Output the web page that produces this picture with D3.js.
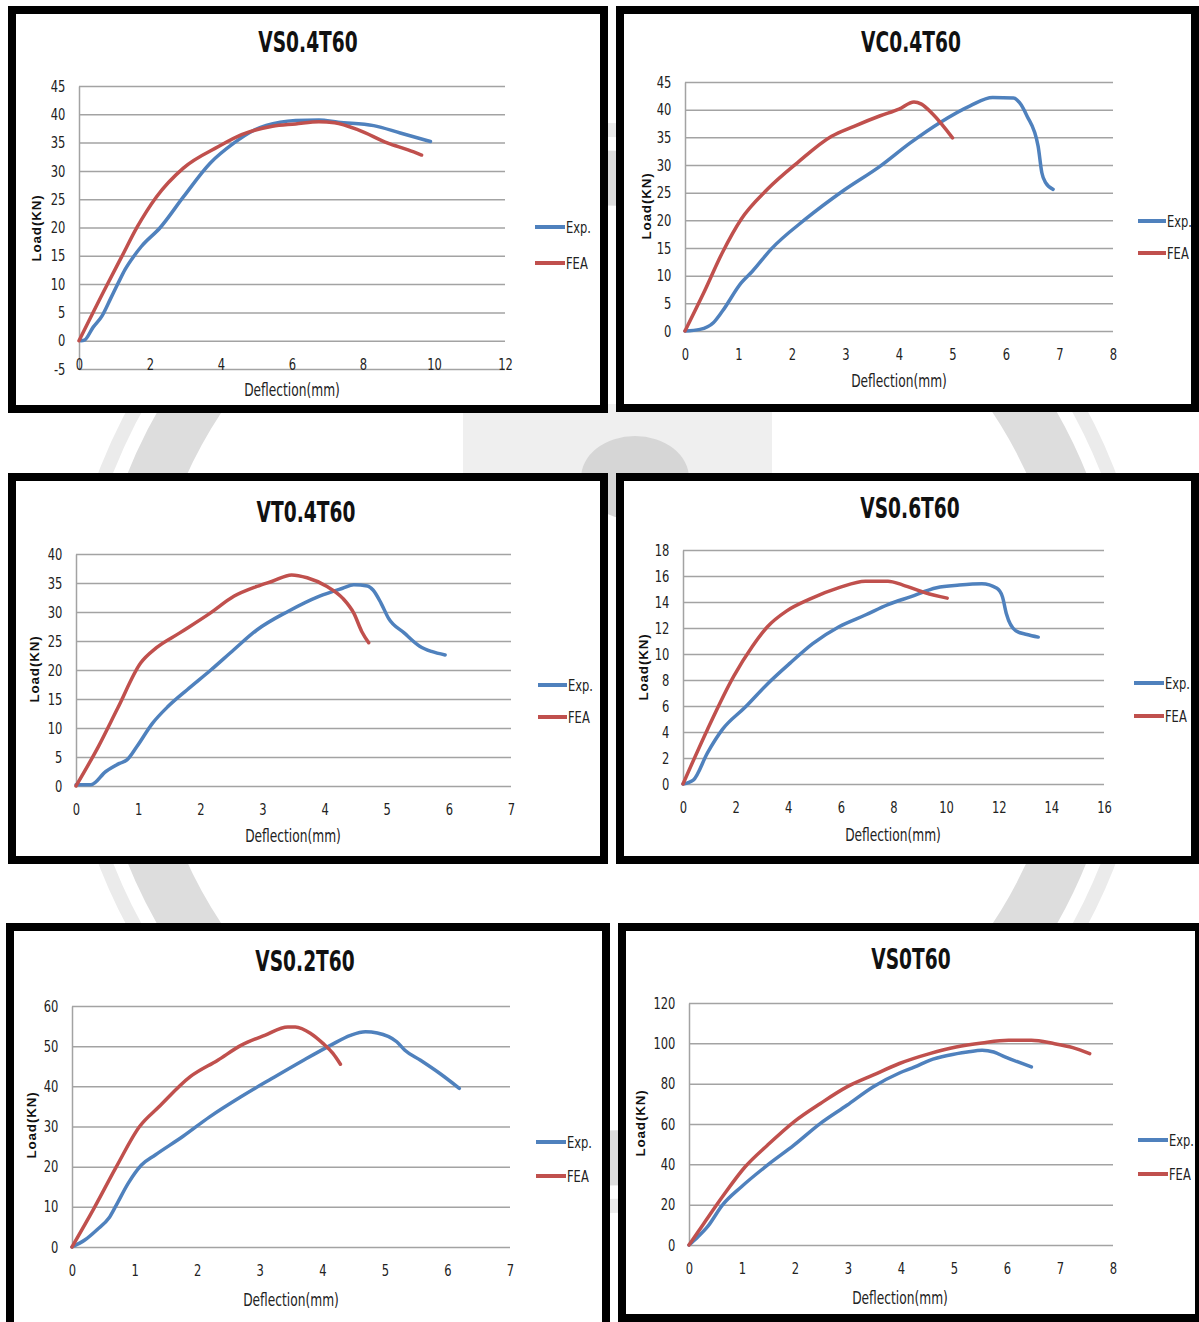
<!DOCTYPE html>
<html>
<head>
<meta charset="utf-8">
<script src="https://cdn.jsdelivr.net/npm/d3@7"></script>
<style>
body { margin: 0; background: #fff; }
text { font-family: "Liberation Sans Narrow", "Arial Narrow", "DejaVu Sans Condensed", sans-serif; }
</style>
</head>
<body>
<div id="chart"></div>
<script>
// series: [deflection mm, load kN]
var vs04Exp = [[0.05,0],[0.15,0.1],[0.4,2.4],[0.65,4.4],[0.88,7.3],[1.09,10],[1.3,12.6],[1.53,14.8],[1.75,16.6],[2.29,20],[2.94,25.4],[3.7,31.4],[4.36,34.9],[4.9,37.1],[5.67,38.6],[6.1,38.9],[6.76,39],[7.3,38.6],[8.3,38],[9.05,36.7],[9.9,35.2]];
var vs04Fea = [[0,0],[0.76,9.5],[1.2,14.8],[1.64,20.1],[2.18,25.4],[2.94,30.5],[3.93,34.3],[4.58,36.4],[5.45,37.9],[6.1,38.3],[6.76,38.7],[7.2,38.5],[7.85,37.3],[8.7,34.9],[9.27,33.7],[9.65,32.8]];

var vc04Exp = [[0,0],[0.28,0.3],[0.53,1.5],[0.7,3.6],[1.05,8.7],[1.26,10.8],[1.61,14.8],[2.25,20.2],[2.95,25.3],[3.65,29.8],[4.21,34],[4.77,37.7],[5.33,40.7],[5.75,42.2],[6.14,42.1],[6.25,41.3],[6.39,38.9],[6.6,33.4],[6.67,28.6],[6.74,26.8],[6.88,25.6]];
var vc04Fea = [[0,0],[0.35,6.9],[0.7,14.2],[1.05,20.2],[1.54,25.6],[2.1,30.4],[2.74,35.2],[3.16,37],[3.65,38.9],[4.0,40.1],[4.28,41.4],[4.42,41],[4.63,39.2],[5.0,34.9]];

var vt04Exp = [[0,0.2],[0.24,0.2],[0.48,2.5],[0.7,3.9],[0.82,4.5],[0.98,6.8],[1.23,10.8],[1.48,13.7],[1.79,16.6],[2.17,20],[2.54,23.5],[2.91,26.9],[3.41,30.1],[3.91,32.7],[4.29,34.1],[4.47,34.7],[4.69,34.5],[4.78,33.8],[4.91,31.5],[5.03,28.9],[5.28,26.4],[5.53,24.1],[5.72,23.2],[5.94,22.6]];
var vt04Fea = [[0,0],[0.36,6.8],[0.67,13.4],[1.04,21.2],[1.29,23.8],[1.67,26.4],[2.16,29.8],[2.54,32.7],[2.91,34.4],[3.16,35.3],[3.47,36.4],[3.72,35.9],[4.04,34.4],[4.29,32.4],[4.47,29.8],[4.6,26.6],[4.71,24.7]];

var vs06Exp = [[0,0],[0.39,0.3],[0.93,2.4],[1.5,4.2],[2.36,5.9],[3.21,7.7],[4.07,9.3],[4.93,10.8],[5.93,12.1],[6.93,13],[7.79,13.8],[8.64,14.4],[9.64,15.1],[10.5,15.3],[11.36,15.4],[11.93,15.05],[12.14,14.4],[12.29,13.1],[12.64,11.8],[13.07,11.5],[13.5,11.3]];
var vs06Fea = [[0,0],[0.93,4.2],[1.93,8.3],[2.64,10.6],[3.21,12.1],[3.93,13.3],[4.79,14.2],[5.93,15.1],[6.93,15.6],[7.79,15.6],[8.36,15.3],[9.21,14.7],[10.04,14.3]];

var vs02Exp = [[0,0],[0.21,1.8],[0.4,4.3],[0.59,7.2],[0.71,10.5],[0.9,15.9],[1.11,20.4],[1.33,22.9],[1.77,27.5],[2.2,32.4],[2.7,37.4],[3.2,42],[3.7,46.5],[4.13,50.2],[4.45,52.7],[4.69,53.6],[4.88,53.3],[5.19,51.1],[5.32,49],[5.57,46.5],[5.88,43.2],[6.19,39.5]];
var vs02Fea = [[0,0],[0.34,9.3],[0.71,20],[1.08,30],[1.39,34.9],[1.89,42.4],[2.33,46.5],[2.7,50.2],[3.08,52.7],[3.45,54.8],[3.57,54.8],[3.82,53.1],[4.01,50.7],[4.17,48.2],[4.29,45.5]];

var vs0Exp = [[0,0],[0.17,4.1],[0.35,9.1],[0.63,19.8],[0.99,28.9],[1.48,39.6],[1.98,49.5],[2.48,60.3],[2.98,69.3],[3.47,78.4],[3.97,85.3],[4.26,88.3],[4.54,91.6],[4.9,94.1],[5.25,95.7],[5.53,96.6],[5.75,95.7],[5.96,93.3],[6.46,88.3]];
var vs0Fea = [[0,0],[0.28,10.7],[0.63,23.9],[1.06,38.8],[1.48,49.5],[1.98,61.1],[2.48,70.2],[2.98,78.4],[3.47,84.2],[3.97,90],[4.54,94.9],[5.04,98.2],[5.53,100.2],[6.03,101.5],[6.46,101.5],[6.88,99.9],[7.24,97.9],[7.56,94.9]];

// tick labels
var vs04YTicks = [-5,0,5,10,15,20,25,30,35,40,45];
var vs04XTicks = [0,2,4,6,8,10,12];
var vc04YTicks = [0,5,10,15,20,25,30,35,40,45];
var vc04XTicks = [0,1,2,3,4,5,6,7,8];
var vt04YTicks = [0,5,10,15,20,25,30,35,40];
var vt04XTicks = [0,1,2,3,4,5,6,7];
var vs06YTicks = [0,2,4,6,8,10,12,14,16,18];
var vs06XTicks = [0,2,4,6,8,10,12,14,16];
var vs02YTicks = [0,10,20,30,40,50,60];
var vs02XTicks = [0,1,2,3,4,5,6,7];
var vs0YTicks = [0,20,40,60,80,100,120];
var vs0XTicks = [0,1,2,3,4,5,6,7,8];

var seriesNames = ["Exp.", "FEA"];
var seriesColors = ["#4F81BD", "#C0504D"];

var svg = d3.select("#chart").append("svg")
  .attr("width", 1199)
  .attr("height", 1322);

// faint watermark behind the panels
svg.append("circle").attr("cx", 607).attr("cy", 668).attr("r", 490)
  .attr("fill", "none").attr("stroke", "#dddddd").attr("stroke-width", 55);
svg.append("circle").attr("cx", 607).attr("cy", 668).attr("r", 538)
  .attr("fill", "none").attr("stroke", "#ebebeb").attr("stroke-width", 14);
svg.append("rect").attr("x", 463).attr("y", 404).attr("width", 309).attr("height", 72).attr("fill", "#efefef");
svg.append("ellipse").attr("cx", 635).attr("cy", 478).attr("rx", 54).attr("ry", 42).attr("fill", "#d6d6d6");

var panels = [
  {title: "VS0.4T60", exp: vs04Exp, fea: vs04Fea, yt: vs04YTicks, xt: vs04XTicks,
   box: [12, 10, 592, 399], plot: [79, 505, 86, 369],
   titleXY: [308, 42], xlab: [292, 390], ylab: [36, 228], leg: [535, 565, 227, 263]},
  {title: "VC0.4T60", exp: vc04Exp, fea: vc04Fea, yt: vc04YTicks, xt: vc04XTicks,
   box: [620, 10, 575, 398], plot: [685, 1113, 82, 331],
   titleXY: [911, 42], xlab: [899, 381], ylab: [646, 206], leg: [1138, 1166, 221, 253]},
  {title: "VT0.4T60", exp: vt04Exp, fea: vt04Fea, yt: vt04YTicks, xt: vt04XTicks,
   box: [12, 477, 592, 383], plot: [76, 511, 554, 786],
   titleXY: [306, 512], xlab: [293, 836], ylab: [34, 669], leg: [538, 567, 685, 717]},
  {title: "VS0.6T60", exp: vs06Exp, fea: vs06Fea, yt: vs06YTicks, xt: vs06XTicks,
   box: [620, 477, 575, 383], plot: [683, 1104, 550, 784],
   titleXY: [910, 508], xlab: [893, 835], ylab: [643, 667], leg: [1134, 1164, 683, 716]},
  {title: "VS0.2T60", exp: vs02Exp, fea: vs02Fea, yt: vs02YTicks, xt: vs02XTicks,
   box: [10, 927, 596, 430], plot: [72, 510, 1006, 1247],
   titleXY: [305, 961], xlab: [291, 1300], ylab: [31, 1125], leg: [536, 566, 1142, 1176]},
  {title: "VS0T60", exp: vs0Exp, fea: vs0Fea, yt: vs0YTicks, xt: vs0XTicks,
   box: [622, 927, 577, 391], plot: [689, 1113, 1003, 1245],
   titleXY: [911, 959], xlab: [900, 1298], ylab: [640, 1123], leg: [1138, 1168, 1140, 1174]}
];

// the picture's font is a tall narrow one, squeeze the condensed fallback a bit
function squeezed(g, px, py, sx, txt) {
  return g.append("text")
    .attr("transform", "translate(" + px + "," + py + ") scale(" + sx + ",1)")
    .attr("dy", "0.36em")
    .text(txt);
}

// plain hyphen for negatives, like the original (-5)
function plainNum(d) { return String(d); }

function drawPanel(p) {
  var g = svg.append("g");
  g.append("rect")
    .attr("x", p.box[0]).attr("y", p.box[1])
    .attr("width", p.box[2]).attr("height", p.box[3])
    .attr("fill", "#fff").attr("stroke", "#000").attr("stroke-width", 8);

  var x = d3.scaleLinear()
    .domain([p.xt[0], p.xt[p.xt.length - 1]])
    .range([p.plot[0], p.plot[1]]);
  var y = d3.scaleLinear()
    .domain([p.yt[0], p.yt[p.yt.length - 1]])
    .range([p.plot[3], p.plot[2]]);

  // y axis + gridlines
  var yAxis = d3.axisLeft(y)
    .tickValues(p.yt)
    .tickSize(-(p.plot[1] - p.plot[0]))
    .tickSizeOuter(0)
    .tickPadding(17)
    .tickFormat(plainNum);
  var yg = g.append("g")
    .attr("transform", "translate(" + p.plot[0] + ",0)")
    .call(yAxis)
    .attr("font-size", 16)
    .attr("font-family", null);
  yg.selectAll(".tick line").attr("stroke", "#a3a3a3").attr("stroke-width", 1.5);
  yg.select(".domain").attr("stroke", "#a3a3a3").attr("stroke-width", 1.5);
  yg.selectAll("text").attr("fill", "#222").attr("transform", "scale(0.8,1)");

  // x axis labels sit 30px under the zero line
  var xAxis = d3.axisBottom(x)
    .tickValues(p.xt)
    .tickSize(0)
    .tickPadding(18)
    .tickFormat(plainNum);
  var xg = g.append("g")
    .attr("transform", "translate(0," + y(0) + ")")
    .call(xAxis)
    .attr("font-size", 16)
    .attr("font-family", null);
  xg.select(".domain").remove();
  xg.selectAll("text").attr("fill", "#222").attr("transform", "scale(0.8,1)");

  var line = d3.line()
    .x(function (d) { return x(d[0]); })
    .y(function (d) { return y(d[1]); })
    .curve(d3.curveMonotoneX);

  [p.exp, p.fea].forEach(function (s, i) {
    g.append("path")
      .datum(s)
      .attr("d", line)
      .attr("fill", "none")
      .attr("stroke", seriesColors[i])
      .attr("stroke-width", 3.5)
      .attr("stroke-linejoin", "round")
      .attr("stroke-linecap", "round");
  });

  squeezed(g, p.titleXY[0], p.titleXY[1], 0.74, p.title)
    .attr("text-anchor", "middle")
    .attr("font-size", 28)
    .attr("font-weight", "bold")
    .attr("fill", "#111");

  squeezed(g, p.xlab[0], p.xlab[1], 0.8, "Deflection(mm)")
    .attr("text-anchor", "middle")
    .attr("font-size", 17)
    .attr("fill", "#222");

  g.append("text")
    .attr("transform", "translate(" + p.ylab[0] + "," + p.ylab[1] + ") rotate(-90)")
    .attr("dy", "0.36em")
    .attr("text-anchor", "middle")
    .attr("font-size", 13.5)
    .attr("font-weight", "bold")
    .attr("letter-spacing", 0.8)
    .style("font-family", "'Liberation Sans', Arial, sans-serif")
    .attr("fill", "#111")
    .text("Load(KN)");

  // legend
  seriesNames.forEach(function (name, i) {
    var ly = p.leg[2 + i];
    g.append("line")
      .attr("x1", p.leg[0]).attr("x2", p.leg[1])
      .attr("y1", ly).attr("y2", ly)
      .attr("stroke", seriesColors[i])
      .attr("stroke-width", 4);
    squeezed(g, p.leg[1] + 1, ly, 0.8, name)
      .attr("font-size", 16)
      .attr("fill", "#222");
  });
}

panels.forEach(drawPanel);
</script>
</body>
</html>
